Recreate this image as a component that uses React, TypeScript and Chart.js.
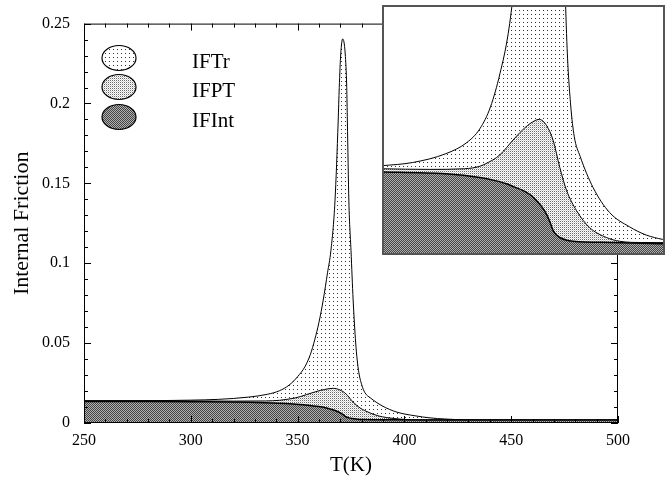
import React, { useEffect, useRef } from 'react';
import { Chart, registerables } from 'chart.js';
Chart.register(...registerables);

// ---- data (T in K, internal friction values) ----
const trT = [250, 270, 290, 300, 313, 327, 336, 341.5, 346, 350, 353.5, 356, 358, 360, 362, 364, 365.6, 367.5, 369, 369.5, 370.2, 371.1, 372.3, 373, 373.3, 374, 375, 376, 376.9, 377.5, 378.5, 380, 381.5, 384, 389.5, 396.5, 405, 412, 419, 430, 450, 500];
const trV = [0.0137, 0.0138, 0.0141, 0.0143, 0.0148, 0.0162, 0.018, 0.0202, 0.0237, 0.029, 0.0354, 0.043, 0.052, 0.063, 0.077, 0.094, 0.108, 0.139, 0.189, 0.21, 0.231, 0.2404, 0.231, 0.21, 0.189, 0.139, 0.108, 0.077, 0.056, 0.045, 0.033, 0.024, 0.019, 0.0158, 0.0108, 0.0068, 0.0045, 0.0032, 0.0025, 0.0019, 0.0018, 0.0018];

const ptT = [250, 280, 300, 320, 335, 341.5, 345, 348.6, 351.5, 354.2, 358.5, 362.7, 366.7, 369.8, 372.6, 375.4, 378.3, 382.5, 388, 395.2, 400.8, 410, 500];
const ptV = [0.014, 0.014, 0.0138, 0.0137, 0.0138, 0.0142, 0.0148, 0.0156, 0.0166, 0.0178, 0.0196, 0.021, 0.0217, 0.0207, 0.0183, 0.014, 0.0103, 0.0071, 0.0044, 0.0028, 0.0022, 0.002, 0.0019];

const inT = [250, 280, 300, 327, 341.5, 348, 352.8, 356, 359.9, 363, 365.5, 367.8, 369.8, 371.3, 372.6, 374, 375.4, 378, 381, 398, 420, 500];
const inV = [0.0134, 0.0134, 0.0133, 0.013, 0.0124, 0.0119, 0.0114, 0.0109, 0.0103, 0.0096, 0.0087, 0.0077, 0.0065, 0.0052, 0.0039, 0.0032, 0.0028, 0.0024, 0.0022, 0.002, 0.0018, 0.0018];

const legendLabels = ['IFTr', 'IFPT', 'IFInt'];
const xRange = [250, 500];
const yRange = [0, 0.25];
const insetX = [300, 420];
const insetY = [0, 0.04];

const FONT = "'Liberation Serif', 'DejaVu Serif', serif";

type Px = [number, number, string];
function makePattern(ctx: CanvasRenderingContext2D, w: number, h: number, bg: string, px: Px[]) {
  const c = document.createElement('canvas');
  c.width = w; c.height = h;
  const g = c.getContext('2d')!;
  g.fillStyle = bg; g.fillRect(0, 0, w, h);
  for (const [x, y, col] of px) { g.fillStyle = col; g.fillRect(x, y, 1, 1); }
  return ctx.createPattern(c, 'repeat')!;
}
function patterns(ctx: CanvasRenderingContext2D) {
  return {
    tr: makePattern(ctx, 4, 4, '#ffffff', [[1, 1, '#333333']]),
    pt: makePattern(ctx, 2, 2, '#ffffff', [[0, 0, '#6a6a6a'], [1, 1, '#d0d0d0']]),
    int: makePattern(ctx, 2, 2, '#b0b0b0', [[0, 0, '#444444'], [1, 1, '#444444']]),
  };
}

function toPts(t: number[], v: number[]) { return t.map((x, i) => ({ x, y: v[i] })); }

function datasets(ctx: CanvasRenderingContext2D) {
  const p = patterns(ctx);
  const common = { fill: 'origin', pointRadius: 0, borderColor: '#000', cubicInterpolationMode: 'monotone' as const };
  return [
    { ...common, label: legendLabels[2], data: toPts(inT, inV), backgroundColor: p.int, borderWidth: 1.5 },
    { ...common, label: legendLabels[1], data: toPts(ptT, ptV), backgroundColor: p.pt, borderWidth: 1 },
    { ...common, label: legendLabels[0], data: toPts(trT, trV), backgroundColor: p.tr, borderWidth: 1 },
  ];
}

const framePlugin = {
  id: 'frame',
  afterDraw(chart: any) {
    const { ctx, chartArea: a, scales } = chart;
    const x = scales.x, y = scales.y;
    ctx.save();
    ctx.strokeStyle = '#000';
    ctx.lineWidth = 1;
    ctx.strokeRect(a.left + 0.5, a.top + 0.5, a.right - a.left - 1, a.bottom - a.top - 1);
    ctx.beginPath();
    for (let t = xRange[0]; t <= xRange[1]; t += 10) {
      const px = Math.round(x.getPixelForValue(t)) + 0.5;
      const len = t % 50 === 0 ? 7 : 4;
      ctx.moveTo(px, a.bottom); ctx.lineTo(px, a.bottom - len);
      ctx.moveTo(px, a.top); ctx.lineTo(px, a.top + len);
    }
    for (let k = 0; k <= 25; k++) {
      const py = Math.round(y.getPixelForValue(k / 100)) + 0.5;
      const len = k % 5 === 0 ? 7 : 4;
      ctx.moveTo(a.left, py); ctx.lineTo(a.left + len, py);
      ctx.moveTo(a.right, py); ctx.lineTo(a.right - len, py);
    }
    ctx.stroke();
    // legend
    const p = patterns(ctx);
    const fills = [p.tr, p.pt, p.int];
    const cys = [58, 87, 117];
    ctx.font = `21px ${FONT}`;
    ctx.textBaseline = 'middle';
    ctx.fillStyle = '#000';
    legendLabels.forEach((lab, i) => {
      ctx.beginPath();
      ctx.ellipse(119, cys[i], 17, 12.5, 0, 0, Math.PI * 2);
      ctx.fillStyle = fills[i];
      ctx.fill();
      ctx.lineWidth = 1.2;
      ctx.strokeStyle = '#000';
      ctx.stroke();
      ctx.fillStyle = '#000';
      ctx.fillText(lab, 192, cys[i] + 4);
    });
    ctx.restore();
  },
};

const insetPlugin = {
  id: 'insetFrame',
  beforeDraw(chart: any) {
    const { ctx, width, height } = chart;
    ctx.save();
    ctx.fillStyle = '#fff';
    ctx.fillRect(0, 0, width, height);
    ctx.restore();
  },
  afterDraw(chart: any) {
    const { ctx, width, height } = chart;
    ctx.save();
    ctx.strokeStyle = '#555';
    ctx.lineWidth = 2;
    ctx.strokeRect(1, 1, width - 2, height - 2);
    ctx.restore();
  },
};

export default function App() {
  const mainRef = useRef<HTMLCanvasElement>(null);
  const insetRef = useRef<HTMLCanvasElement>(null);

  useEffect(() => {
    document.body.style.margin = '0';
    const mctx = mainRef.current!.getContext('2d')!;
    const main = new Chart(mctx, {
      type: 'line',
      data: { datasets: datasets(mctx) as any },
      options: {
        responsive: false,
        animation: false,
        layout: { padding: { top: 23, right: 54, bottom: 0, left: 0 } },
        plugins: { legend: { display: false }, tooltip: { enabled: false } },
        scales: {
          x: {
            type: 'linear', min: xRange[0], max: xRange[1],
            grid: { display: false, drawTicks: false },
            border: { display: false },
            ticks: { stepSize: 50, color: '#000', padding: 8, font: { family: FONT, size: 16 } },
            title: { display: true, text: 'T(K)', color: '#000', font: { family: FONT, size: 21 }, padding: { top: 0, bottom: 3 } },
            afterFit: (s: any) => { s.height = 58; },
          },
          y: {
            type: 'linear', min: yRange[0], max: yRange[1],
            grid: { display: false, drawTicks: false },
            border: { display: false },
            ticks: {
              stepSize: 0.05, color: '#000', padding: 14, font: { family: FONT, size: 16 },
              callback: (v: any) => String(Math.round(Number(v) * 100) / 100),
            },
            title: { display: true, text: 'Internal Friction', color: '#000', font: { family: FONT, size: 22 }, padding: { top: 9, bottom: 0 } },
            afterFit: (s: any) => { s.width = 84; },
          },
        },
      } as any,
      plugins: [framePlugin],
    });

    const ictx = insetRef.current!.getContext('2d')!;
    const inset = new Chart(ictx, {
      type: 'line',
      data: { datasets: datasets(ictx) as any },
      options: {
        responsive: false,
        animation: false,
        layout: { padding: 0 },
        plugins: { legend: { display: false }, tooltip: { enabled: false } },
        scales: {
          x: { type: 'linear', min: insetX[0], max: insetX[1], display: false },
          y: { type: 'linear', min: insetY[0], max: insetY[1], display: false },
        },
      } as any,
      plugins: [insetPlugin],
    });

    return () => { main.destroy(); inset.destroy(); };
  }, []);

  return (
    <div style={{ position: 'relative', width: 672, height: 481, background: '#fff' }}>
      <canvas ref={mainRef} width={672} height={481} style={{ position: 'absolute', left: 0, top: 0 }} />
      <canvas ref={insetRef} width={283} height={250} style={{ position: 'absolute', left: 382, top: 5 }} />
    </div>
  );
}
